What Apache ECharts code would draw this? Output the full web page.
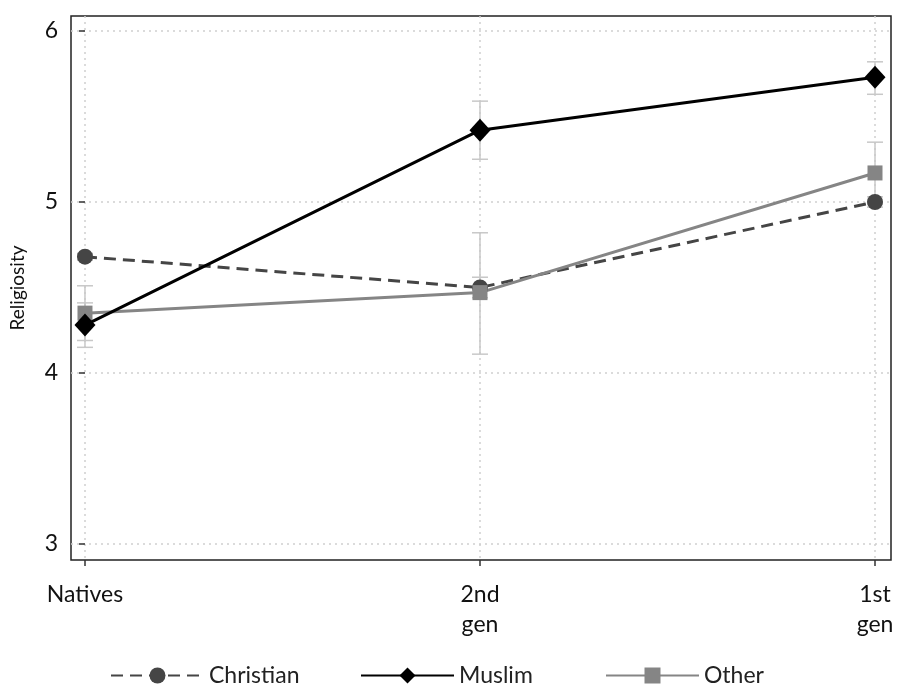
<!DOCTYPE html>
<html><head><meta charset="utf-8">
<script src="https://cdn.jsdelivr.net/npm/echarts@6/dist/echarts.min.js"></script>
<style>html,body{margin:0;padding:0;background:#fff}#c{width:897px;height:684px}</style>
</head><body><div id="c"></div>
<script>
const categories = ['Natives', '2nd\ngen', '1st\ngen'];
const yTicks = [3, 4, 5, 6];
const christian = [4.68, 4.50, 5.00];
const christianLo = [4.66, 4.44, 4.97];
const christianHi = [4.70, 4.56, 5.03];
const muslim = [4.28, 5.42, 5.73];
const muslimLo = [4.15, 5.25, 5.63];
const muslimHi = [4.41, 5.59, 5.82];
const other = [4.35, 4.47, 5.17];
const otherLo = [4.19, 4.11, 4.99];
const otherHi = [4.51, 4.82, 5.35];

const font = 'Lato, "Open Sans", sans-serif';
const pts = arr => arr.map((v, i) => [i, v]);
const errs = (lo, hi) => lo.map((v, i) => [i, v, hi[i]]);

function errRender(params, api) {
  const x = api.value(0), lo = api.value(1), hi = api.value(2);
  const a = api.coord([x, hi]), b = api.coord([x, lo]);
  const w = 8;
  const st = { stroke: '#c8c8c8', lineWidth: 1.5 };
  return { type: 'group', children: [
    { type: 'line', shape: { x1: a[0], y1: a[1], x2: b[0], y2: b[1] }, style: st },
    { type: 'line', shape: { x1: a[0] - w, y1: a[1], x2: a[0] + w, y2: a[1] }, style: st },
    { type: 'line', shape: { x1: b[0] - w, y1: b[1], x2: b[0] + w, y2: b[1] }, style: st }
  ]};
}

const chart = echarts.init(document.getElementById('c'), null, { renderer: 'canvas' });
const legendBase = {
  top: 659, itemWidth: 93, itemHeight: 20, itemGap: 10,
  textStyle: { fontSize: 23, color: '#222', fontFamily: font },
  selectedMode: false
};
chart.setOption({
  animation: false,
  backgroundColor: '#fff',
  grid: { left: 71, right: 6, top: 16, bottom: 124, show: true, borderColor: '#222', borderWidth: 1.5, backgroundColor: 'transparent' },
  legend: [
    Object.assign({ left: 105, data: ['Christian'] }, legendBase),
    Object.assign({ left: 355, data: ['Muslim'] }, legendBase),
    Object.assign({ left: 600, data: ['Other'] }, legendBase)
  ],
  xAxis: {
    type: 'value', min: -0.0354, max: 2.0405,
    axisLine: { show: false },
    axisTick: { show: true, length: 6, lineStyle: { color: '#333', width: 1.5 }, customValues: [0, 1, 2] },
    axisLabel: { customValues: [0, 1, 2], formatter: v => categories[Math.round(v)], fontSize: 23, lineHeight: 30, color: '#111', fontFamily: font, margin: 20, showMinLabel: true, showMaxLabel: true },
    splitLine: { show: true, lineStyle: { color: '#cfcfcf', type: [2, 4], width: 1.5 } }
  },
  yAxis: {
    type: 'value', min: 2.906, max: 6.088,
    name: 'Religiosity', nameLocation: 'middle', nameGap: 44,
    nameTextStyle: { fontSize: 19, color: '#111', fontFamily: font },
    axisLine: { show: false },
    axisTick: { show: true, length: 6, lineStyle: { color: '#333', width: 1.5 }, customValues: yTicks },
    axisLabel: { customValues: yTicks, fontSize: 23, color: '#111', fontFamily: font, margin: 13 },
    splitLine: { show: true, lineStyle: { color: '#cfcfcf', type: [2, 4], width: 1.5 } }
  },
  series: [
    { type: 'custom', name: 'ciC', renderItem: errRender, data: errs(christianLo, christianHi), z: 1, encode: { x: 0, y: [1, 2] } },
    { type: 'custom', name: 'ciM', renderItem: errRender, data: errs(muslimLo, muslimHi), z: 1, encode: { x: 0, y: [1, 2] } },
    { type: 'custom', name: 'ciO', renderItem: errRender, data: errs(otherLo, otherHi), z: 1, encode: { x: 0, y: [1, 2] } },
    { type: 'line', name: 'Christian', data: pts(christian), symbol: 'circle', symbolSize: 16, z: 3,
      lineStyle: { color: '#454545', width: 3, type: [12, 7] }, itemStyle: { color: '#454545' } },
    { type: 'line', name: 'Muslim', data: pts(muslim), symbol: 'diamond', symbolSize: [21, 23], z: 4,
      lineStyle: { color: '#000', width: 3 }, itemStyle: { color: '#000' } },
    { type: 'line', name: 'Other', data: pts(other), symbol: 'rect', symbolSize: 15, z: 3,
      lineStyle: { color: '#858585', width: 3 }, itemStyle: { color: '#858585' } }
  ]
});
</script>
</body></html>
